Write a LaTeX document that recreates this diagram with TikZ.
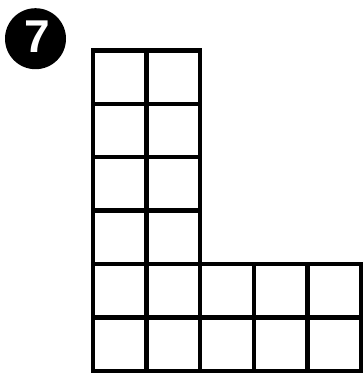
\documentclass[tikz,border=0pt]{standalone}
\usepackage{fontspec}
\setmainfont{Liberation Sans}
\begin{document}
\begin{tikzpicture}[x=1pt,y=-1pt,
  gridline/.style={line width=4.3pt,line cap=rect},
  badge/.style={circle,fill=black,minimum size=61pt,inner sep=0pt},
  badgetext/.style={text=white,font=\fontsize{46}{46}\selectfont\bfseries,inner sep=0pt}]
\useasboundingbox (0,0) rectangle (363,373);
\node[badge] (b) at (35.5,38.7) {};
\node[badgetext,anchor=center] (t) at (37.5,36.5) {\raisebox{0pt}[0.716em][0pt]{7}};
% grid: x0=93, cell=53.6; y0=50.5, cell=53.4
\def\cx{53.6}
\def\cy{53.37}
% top part (2 columns x 4 rows)
\foreach \r in {0,...,3}{
  \foreach \c in {0,1}{
    \draw[gridline] (93+\c*\cx,50.5+\r*\cy) rectangle ++(\cx,\cy);
  }
}
% bottom part (5 columns x 2 rows)
\foreach \r in {4,5}{
  \foreach \c in {0,...,4}{
    \draw[gridline] (93+\c*\cx,50.5+\r*\cy) rectangle ++(\cx,\cy);
  }
}
\end{tikzpicture}
\end{document}
